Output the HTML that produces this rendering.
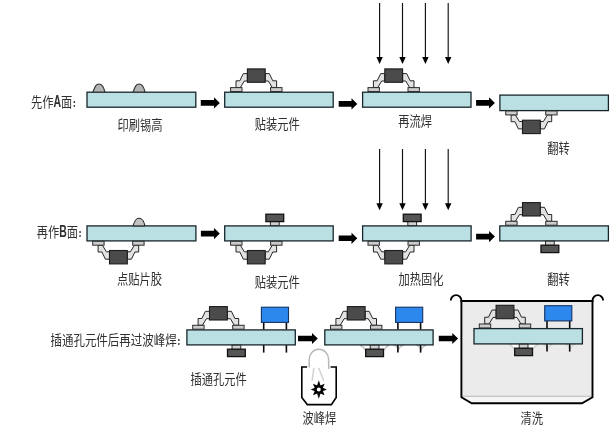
<!DOCTYPE html>
<html lang="zh-CN">
<head>
<meta charset="utf-8">
<title>SMT 双面混装工艺流程</title>
<style>
html,body{margin:0;padding:0;background:#fff;}
body{width:614px;height:429px;overflow:hidden;}
svg{display:block;will-change:transform;font-family:"Liberation Sans","Noto Sans CJK SC",sans-serif;}
.c{font-family:"Noto Sans CJK SC","Liberation Sans",sans-serif;font-size:9.5px;font-weight:900;}
</style>
</head>
<body>
<svg width="614" height="429" viewBox="0 0 614 429">
<rect width="614" height="429" fill="#fff"/>
<text transform="translate(31.0,107.3) scale(0.805,1)" font-size="14" fill="#303030">先作<tspan font-size="16" font-weight="bold" textLength="9.4" lengthAdjust="spacingAndGlyphs">A</tspan>面<tspan class="c" dx="0.8" dy="-0.2">:</tspan></text>
<rect x="87.0" y="92.2" width="108.8" height="15.0" fill="#bae0e4" stroke="#17262a" stroke-width="1.3"/>
<path d="M92.9,92.2 C95.1,86.5 95.9,84.0 98.9,84.0 C101.9,84.0 103.7,86.0 104.9,92.2 Z" fill="#b4b4b4" stroke="#333" stroke-width="1.2"/>
<path d="M133.0,92.2 C135.2,86.5 136.0,84.0 139.0,84.0 C142.0,84.0 143.8,86.0 145.0,92.2 Z" fill="#b4b4b4" stroke="#333" stroke-width="1.2"/>
<polygon points="200.8,100.1 214.0,100.1 214.0,97.3 219.8,102.9 214.0,108.5 214.0,105.7 200.8,105.7" fill="#000"/>
<rect x="224.7" y="92.2" width="108.5" height="15.0" fill="#bae0e4" stroke="#17262a" stroke-width="1.3"/>
<polygon points="247.4,73.6 243.3,73.6 239.8,80.8 236.0,80.8 236.0,87.6 240.3,87.6 244.3,81.0 247.4,81.0" fill="#e2e2e2" stroke="#262626" stroke-width="1"/>
<rect x="230.6" y="87.6" width="11.4" height="3.9" fill="#cccccc" stroke="#2e2e2e" stroke-width="1"/>
<polygon points="265.2,73.6 269.3,73.6 272.8,80.8 276.6,80.8 276.6,87.6 272.3,87.6 268.3,81.0 265.2,81.0" fill="#e2e2e2" stroke="#262626" stroke-width="1"/>
<rect x="270.6" y="87.6" width="11.4" height="3.9" fill="#cccccc" stroke="#2e2e2e" stroke-width="1"/>
<rect x="247.4" y="68.9" width="17.8" height="13.4" fill="#4b4b4b" stroke="#1c1c1c" stroke-width="1.1"/>
<polygon points="338.7,101.1 351.5,101.1 351.5,98.3 357.3,103.9 351.5,109.5 351.5,106.7 338.7,106.7" fill="#000"/>
<rect x="362.6" y="92.2" width="108.4" height="15.0" fill="#bae0e4" stroke="#17262a" stroke-width="1.3"/>
<polygon points="384.8,73.6 380.7,73.6 377.2,80.8 373.4,80.8 373.4,87.6 377.7,87.6 381.7,81.0 384.8,81.0" fill="#e2e2e2" stroke="#262626" stroke-width="1"/>
<rect x="368.0" y="87.6" width="11.4" height="3.9" fill="#cccccc" stroke="#2e2e2e" stroke-width="1"/>
<polygon points="402.6,73.6 406.7,73.6 410.2,80.8 414.0,80.8 414.0,87.6 409.7,87.6 405.7,81.0 402.6,81.0" fill="#e2e2e2" stroke="#262626" stroke-width="1"/>
<rect x="408.0" y="87.6" width="11.4" height="3.9" fill="#cccccc" stroke="#2e2e2e" stroke-width="1"/>
<rect x="384.8" y="68.9" width="17.8" height="13.4" fill="#4b4b4b" stroke="#1c1c1c" stroke-width="1.1"/>
<line x1="379.6" y1="3.0" x2="379.6" y2="58.5" stroke="#111" stroke-width="1.15"/>
<polygon points="376.4,56.9 382.8,56.9 379.6,63.9" fill="#000"/>
<line x1="402.5" y1="3.0" x2="402.5" y2="58.5" stroke="#111" stroke-width="1.15"/>
<polygon points="399.3,56.9 405.7,56.9 402.5,63.9" fill="#000"/>
<line x1="425.4" y1="3.0" x2="425.4" y2="58.5" stroke="#111" stroke-width="1.15"/>
<polygon points="422.2,56.9 428.6,56.9 425.4,63.9" fill="#000"/>
<line x1="448.2" y1="3.0" x2="448.2" y2="58.5" stroke="#111" stroke-width="1.15"/>
<polygon points="445.0,56.9 451.4,56.9 448.2,63.9" fill="#000"/>
<polygon points="476.1,100.1 489.1,100.1 489.1,97.3 494.9,102.9 489.1,108.5 489.1,105.7 476.1,105.7" fill="#000"/>
<rect x="499.9" y="95.1" width="108.5" height="15.5" fill="#bae0e4" stroke="#17262a" stroke-width="1.3"/>
<polygon points="522.5,128.9 518.4,128.9 514.9,121.7 511.1,121.7 511.1,114.9 515.4,114.9 519.4,121.5 522.5,121.5" fill="#e2e2e2" stroke="#262626" stroke-width="1"/>
<rect x="505.7" y="111.0" width="11.4" height="3.9" fill="#cccccc" stroke="#2e2e2e" stroke-width="1"/>
<polygon points="540.3,128.9 544.4,128.9 547.9,121.7 551.7,121.7 551.7,114.9 547.4,114.9 543.4,121.5 540.3,121.5" fill="#e2e2e2" stroke="#262626" stroke-width="1"/>
<rect x="545.7" y="111.0" width="11.4" height="3.9" fill="#cccccc" stroke="#2e2e2e" stroke-width="1"/>
<rect x="522.5" y="120.2" width="17.8" height="13.4" fill="#4b4b4b" stroke="#1c1c1c" stroke-width="1.1"/>
<text transform="translate(117.6,130.0) scale(0.805,1)" font-size="14" fill="#303030">印刷锡高</text>
<text transform="translate(254.7,129.4) scale(0.805,1)" font-size="14" fill="#303030">贴装元件</text>
<text transform="translate(398.3,126.3) scale(0.805,1)" font-size="14" fill="#303030">再流焊</text>
<text transform="translate(547.3,153.0) scale(0.805,1)" font-size="14" fill="#303030">翻转</text>
<text transform="translate(36.7,237.3) scale(0.805,1)" font-size="14" fill="#303030">再作<tspan font-size="16" font-weight="bold" textLength="9.4" lengthAdjust="spacingAndGlyphs">B</tspan>面<tspan class="c" dx="0.8" dy="-0.2">:</tspan></text>
<rect x="87.0" y="225.9" width="108.9" height="15.0" fill="#bae0e4" stroke="#17262a" stroke-width="1.3"/>
<path d="M132.9,225.9 C135.1,220.6 135.9,218.3 138.9,218.3 C141.9,218.3 143.7,220.2 144.9,225.9 Z" fill="#c2c2c2" stroke="#1c1c1c" stroke-width="1"/>
<polygon points="109.5,259.2 105.4,259.2 101.9,252.0 98.1,252.0 98.1,245.2 102.4,245.2 106.4,251.8 109.5,251.8" fill="#e2e2e2" stroke="#262626" stroke-width="1"/>
<rect x="92.7" y="241.3" width="11.4" height="3.9" fill="#cccccc" stroke="#2e2e2e" stroke-width="1"/>
<polygon points="127.3,259.2 131.4,259.2 134.9,252.0 138.7,252.0 138.7,245.2 134.4,245.2 130.4,251.8 127.3,251.8" fill="#e2e2e2" stroke="#262626" stroke-width="1"/>
<rect x="132.7" y="241.3" width="11.4" height="3.9" fill="#cccccc" stroke="#2e2e2e" stroke-width="1"/>
<rect x="109.5" y="250.5" width="17.8" height="13.4" fill="#4b4b4b" stroke="#1c1c1c" stroke-width="1.1"/>
<polygon points="200.9,230.8 214.0,230.8 214.0,228.0 219.8,233.6 214.0,239.2 214.0,236.4 200.9,236.4" fill="#000"/>
<rect x="224.7" y="225.9" width="108.5" height="15.0" fill="#bae0e4" stroke="#17262a" stroke-width="1.3"/>
<rect x="270.4" y="221.4" width="8.8" height="4.2" fill="#d0d0d0" stroke="#2a2a2a" stroke-width="1"/>
<rect x="265.9" y="214.2" width="17.8" height="7.4" fill="#555" stroke="#111" stroke-width="1.3"/>
<polygon points="247.4,259.2 243.3,259.2 239.8,252.0 236.0,252.0 236.0,245.2 240.3,245.2 244.3,251.8 247.4,251.8" fill="#e2e2e2" stroke="#262626" stroke-width="1"/>
<rect x="230.6" y="241.3" width="11.4" height="3.9" fill="#cccccc" stroke="#2e2e2e" stroke-width="1"/>
<polygon points="265.2,259.2 269.3,259.2 272.8,252.0 276.6,252.0 276.6,245.2 272.3,245.2 268.3,251.8 265.2,251.8" fill="#e2e2e2" stroke="#262626" stroke-width="1"/>
<rect x="270.6" y="241.3" width="11.4" height="3.9" fill="#cccccc" stroke="#2e2e2e" stroke-width="1"/>
<rect x="247.4" y="250.5" width="17.8" height="13.4" fill="#4b4b4b" stroke="#1c1c1c" stroke-width="1.1"/>
<polygon points="338.7,235.5 351.5,235.5 351.5,232.7 357.3,238.3 351.5,243.9 351.5,241.1 338.7,241.1" fill="#000"/>
<rect x="362.6" y="225.9" width="108.5" height="15.0" fill="#bae0e4" stroke="#17262a" stroke-width="1.3"/>
<rect x="407.8" y="221.4" width="8.8" height="4.2" fill="#d0d0d0" stroke="#2a2a2a" stroke-width="1"/>
<rect x="403.3" y="214.2" width="17.8" height="7.4" fill="#555" stroke="#111" stroke-width="1.3"/>
<polygon points="384.8,259.2 380.7,259.2 377.2,252.0 373.4,252.0 373.4,245.2 377.7,245.2 381.7,251.8 384.8,251.8" fill="#e2e2e2" stroke="#262626" stroke-width="1"/>
<rect x="368.0" y="241.3" width="11.4" height="3.9" fill="#cccccc" stroke="#2e2e2e" stroke-width="1"/>
<polygon points="402.6,259.2 406.7,259.2 410.2,252.0 414.0,252.0 414.0,245.2 409.7,245.2 405.7,251.8 402.6,251.8" fill="#e2e2e2" stroke="#262626" stroke-width="1"/>
<rect x="408.0" y="241.3" width="11.4" height="3.9" fill="#cccccc" stroke="#2e2e2e" stroke-width="1"/>
<rect x="384.8" y="250.5" width="17.8" height="13.4" fill="#4b4b4b" stroke="#1c1c1c" stroke-width="1.1"/>
<line x1="379.6" y1="149.0" x2="379.6" y2="204.8" stroke="#111" stroke-width="1.15"/>
<polygon points="376.4,203.2 382.8,203.2 379.6,210.2" fill="#000"/>
<line x1="402.5" y1="149.0" x2="402.5" y2="204.8" stroke="#111" stroke-width="1.15"/>
<polygon points="399.3,203.2 405.7,203.2 402.5,210.2" fill="#000"/>
<line x1="425.4" y1="149.0" x2="425.4" y2="204.8" stroke="#111" stroke-width="1.15"/>
<polygon points="422.2,203.2 428.6,203.2 425.4,210.2" fill="#000"/>
<line x1="448.2" y1="149.0" x2="448.2" y2="204.8" stroke="#111" stroke-width="1.15"/>
<polygon points="445.0,203.2 451.4,203.2 448.2,210.2" fill="#000"/>
<polygon points="476.1,233.8 489.1,233.8 489.1,231.0 494.9,236.6 489.1,242.2 489.1,239.4 476.1,239.4" fill="#000"/>
<rect x="499.8" y="225.9" width="108.6" height="15.0" fill="#bae0e4" stroke="#17262a" stroke-width="1.3"/>
<polygon points="522.5,207.3 518.4,207.3 514.9,214.5 511.1,214.5 511.1,221.3 515.4,221.3 519.4,214.7 522.5,214.7" fill="#e2e2e2" stroke="#262626" stroke-width="1"/>
<rect x="505.7" y="221.3" width="11.4" height="3.9" fill="#cccccc" stroke="#2e2e2e" stroke-width="1"/>
<polygon points="540.3,207.3 544.4,207.3 547.9,214.5 551.7,214.5 551.7,221.3 547.4,221.3 543.4,214.7 540.3,214.7" fill="#e2e2e2" stroke="#262626" stroke-width="1"/>
<rect x="545.7" y="221.3" width="11.4" height="3.9" fill="#cccccc" stroke="#2e2e2e" stroke-width="1"/>
<rect x="522.5" y="202.6" width="17.8" height="13.4" fill="#4b4b4b" stroke="#1c1c1c" stroke-width="1.1"/>
<rect x="545.5" y="241.2" width="8.8" height="4.2" fill="#d0d0d0" stroke="#2a2a2a" stroke-width="1"/>
<rect x="541.0" y="245.2" width="17.8" height="7.4" fill="#555" stroke="#111" stroke-width="1.3"/>
<text transform="translate(117.0,283.7) scale(0.805,1)" font-size="14" fill="#303030">点贴片胶</text>
<text transform="translate(254.7,286.8) scale(0.805,1)" font-size="14" fill="#303030">贴装元件</text>
<text transform="translate(398.4,283.6) scale(0.805,1)" font-size="14" fill="#303030">加热固化</text>
<text transform="translate(547.2,283.7) scale(0.805,1)" font-size="14" fill="#303030">翻转</text>
<text transform="translate(50.4,345.2) scale(0.822,1)" font-size="14" fill="#303030">插通孔元件后再过波峰焊<tspan class="c" dx="0.8" dy="-0.2">:</tspan></text>
<line x1="263.7" y1="321.5" x2="263.7" y2="329.5" stroke="#0a0a0a" stroke-width="1.6"/>
<line x1="286.4" y1="321.5" x2="286.4" y2="329.5" stroke="#0a0a0a" stroke-width="1.6"/>
<rect x="261.4" y="307.2" width="27.1" height="15.2" fill="#2d88ee" stroke="#143364" stroke-width="1.1"/>
<line x1="263.7" y1="344.9" x2="263.7" y2="352.6" stroke="#0a0a0a" stroke-width="1.6"/>
<line x1="286.4" y1="344.9" x2="286.4" y2="352.6" stroke="#0a0a0a" stroke-width="1.6"/>
<rect x="186.9" y="329.9" width="108.4" height="15.0" fill="#bae0e4" stroke="#17262a" stroke-width="1.3"/>
<polygon points="209.5,311.3 205.4,311.3 201.9,318.5 198.1,318.5 198.1,325.3 202.4,325.3 206.4,318.7 209.5,318.7" fill="#e2e2e2" stroke="#262626" stroke-width="1"/>
<rect x="192.7" y="325.3" width="11.4" height="3.9" fill="#cccccc" stroke="#2e2e2e" stroke-width="1"/>
<polygon points="227.3,311.3 231.4,311.3 234.9,318.5 238.7,318.5 238.7,325.3 234.4,325.3 230.4,318.7 227.3,318.7" fill="#e2e2e2" stroke="#262626" stroke-width="1"/>
<rect x="232.7" y="325.3" width="11.4" height="3.9" fill="#cccccc" stroke="#2e2e2e" stroke-width="1"/>
<rect x="209.5" y="306.6" width="17.8" height="13.4" fill="#4b4b4b" stroke="#1c1c1c" stroke-width="1.1"/>
<rect x="232.0" y="345.2" width="8.8" height="4.2" fill="#d0d0d0" stroke="#2a2a2a" stroke-width="1"/>
<rect x="227.5" y="349.2" width="17.8" height="7.4" fill="#555" stroke="#111" stroke-width="1.3"/>
<polygon points="298.0,335.7 312.0,335.7 312.0,332.9 317.8,338.5 312.0,344.1 312.0,341.3 298.0,341.3" fill="#000"/>
<path d="M309.3,367.5 L309.2,359.5 A9.7,10.2 0 0 1 328.6,359.5 L328.8,369" fill="none" stroke="#b8b8b8" stroke-width="1.5"/>
<line x1="313.9" y1="367.8" x2="312.1" y2="380.6" stroke="#d2d2d2" stroke-width="1.5"/>
<line x1="318.6" y1="367.8" x2="323.8" y2="380.8" stroke="#d2d2d2" stroke-width="1.5"/>
<path d="M307.1,367 L301.8,367 L301.8,397.5 L307.3,404.6 L331.4,404.6 L336.2,397.5 L336.2,367 L330.6,367" fill="none" stroke="#000" stroke-width="1.6"/>
<polygon points="318.8,380.3 317.1,385.6 320.5,385.6" fill="#000"/>
<polygon points="324.6,383.7 320.4,385.5 322.8,387.9" fill="#000"/>
<polygon points="326.8,389.5 322.7,387.8 322.7,391.2" fill="#000"/>
<polygon points="324.6,395.3 322.8,391.1 320.4,393.5" fill="#000"/>
<polygon points="318.8,398.7 320.5,393.4 317.1,393.4" fill="#000"/>
<polygon points="313.0,395.3 317.2,393.5 314.8,391.1" fill="#000"/>
<polygon points="310.8,389.5 314.9,391.2 314.9,387.8" fill="#000"/>
<polygon points="313.0,383.7 314.8,387.9 317.2,385.5" fill="#000"/>
<circle cx="318.8" cy="389.5" r="3.3" fill="#fff" stroke="#000" stroke-width="2.6"/>
<line x1="397.9" y1="321.5" x2="397.9" y2="329.5" stroke="#0a0a0a" stroke-width="1.6"/>
<line x1="420.6" y1="321.5" x2="420.6" y2="329.5" stroke="#0a0a0a" stroke-width="1.6"/>
<rect x="395.6" y="307.2" width="27.1" height="15.2" fill="#2d88ee" stroke="#143364" stroke-width="1.1"/>
<path d="M359.6,344.9 Q363.2,346.5 365.4,350.5 L383.8,350.5 Q386.0,346.5 389.6,344.9 Z" fill="#fff" stroke="#bcbcbc" stroke-width="1.2"/>
<path d="M393.3,344.9 Q396.7,345.9 397.9,348.9 L397.9,350.7 Q399.5,346.5 403.9,344.9 Z" fill="#fff" stroke="#bcbcbc" stroke-width="1.2"/>
<line x1="397.9" y1="344.9" x2="397.9" y2="352.6" stroke="#0a0a0a" stroke-width="1.6"/>
<path d="M416.0,344.9 Q419.4,345.9 420.6,348.9 L420.6,350.7 Q422.2,346.5 426.6,344.9 Z" fill="#fff" stroke="#bcbcbc" stroke-width="1.2"/>
<line x1="420.6" y1="344.9" x2="420.6" y2="352.6" stroke="#0a0a0a" stroke-width="1.6"/>
<rect x="324.8" y="329.9" width="108.3" height="15.0" fill="#bae0e4" stroke="#17262a" stroke-width="1.3"/>
<polygon points="347.3,311.3 343.2,311.3 339.7,318.5 335.9,318.5 335.9,325.3 340.2,325.3 344.2,318.7 347.3,318.7" fill="#e2e2e2" stroke="#262626" stroke-width="1"/>
<rect x="330.5" y="325.3" width="11.4" height="3.9" fill="#cccccc" stroke="#2e2e2e" stroke-width="1"/>
<polygon points="365.1,311.3 369.2,311.3 372.7,318.5 376.5,318.5 376.5,325.3 372.2,325.3 368.2,318.7 365.1,318.7" fill="#e2e2e2" stroke="#262626" stroke-width="1"/>
<rect x="370.5" y="325.3" width="11.4" height="3.9" fill="#cccccc" stroke="#2e2e2e" stroke-width="1"/>
<rect x="347.3" y="306.6" width="17.8" height="13.4" fill="#4b4b4b" stroke="#1c1c1c" stroke-width="1.1"/>
<rect x="370.2" y="345.2" width="8.8" height="4.2" fill="#d0d0d0" stroke="#2a2a2a" stroke-width="1"/>
<rect x="365.7" y="349.2" width="17.8" height="7.4" fill="#555" stroke="#111" stroke-width="1.3"/>
<polygon points="438.8,335.7 452.3,335.7 452.3,332.9 458.1,338.5 452.3,344.1 452.3,341.3 438.8,341.3" fill="#000"/>
<path d="M461.4,301 L592.5,301 L592.5,397.2 L582,403.3 L471.7,403.3 L461.4,397.2 Z" fill="#f6f6f6"/>
<rect x="461.4" y="301" width="130.9" height="95.2" fill="#ebebeb"/>
<line x1="461.4" y1="396.3" x2="592.5" y2="396.3" stroke="#b4b4b4" stroke-width="0.9"/>
<path d="M461.4,301 L592.5,301 L592.5,397.2 L582,403.3 L471.7,403.3 L461.4,397.2 Z" fill="none" stroke="#000" stroke-width="1.9" stroke-linejoin="miter"/>
<path d="M461.4,302 L461.4,300.5 A5.3,5.3 0 0 0 450.8,300.5" fill="none" stroke="#000" stroke-width="1.8"/>
<path d="M592.5,302 L592.5,300.5 A5.3,5.3 0 0 1 603.1,300.5" fill="none" stroke="#000" stroke-width="1.8"/>
<line x1="547.0" y1="320.0" x2="547.0" y2="328.0" stroke="#0a0a0a" stroke-width="1.6"/>
<line x1="569.7" y1="320.0" x2="569.7" y2="328.0" stroke="#0a0a0a" stroke-width="1.6"/>
<rect x="544.7" y="305.7" width="27.1" height="15.2" fill="#2d88ee" stroke="#143364" stroke-width="1.1"/>
<path d="M508.6,343.9 Q512.2,345.5 514.4,349.5 L532.8,349.5 Q535.0,345.5 538.6,343.9 Z" fill="#fff" stroke="#cacaca" stroke-width="1.2"/>
<path d="M542.4,343.9 Q545.8,344.9 547.0,347.9 L547.0,349.7 Q548.6,345.5 553.0,343.9 Z" fill="#fff" stroke="#cacaca" stroke-width="1.2"/>
<line x1="547.0" y1="343.9" x2="547.0" y2="351.6" stroke="#0a0a0a" stroke-width="1.6"/>
<path d="M565.1,343.9 Q568.5,344.9 569.7,347.9 L569.7,349.7 Q571.3,345.5 575.7,343.9 Z" fill="#fff" stroke="#cacaca" stroke-width="1.2"/>
<line x1="569.7" y1="343.9" x2="569.7" y2="351.6" stroke="#0a0a0a" stroke-width="1.6"/>
<rect x="474.0" y="328.6" width="108.4" height="15.3" fill="#bae0e4" stroke="#17262a" stroke-width="1.3"/>
<polygon points="496.1,310.0 492.0,310.0 488.5,317.2 484.7,317.2 484.7,324.0 489.0,324.0 493.0,317.4 496.1,317.4" fill="#e2e2e2" stroke="#262626" stroke-width="1"/>
<rect x="479.3" y="324.0" width="11.4" height="3.9" fill="#cccccc" stroke="#2e2e2e" stroke-width="1"/>
<polygon points="513.9,310.0 518.0,310.0 521.5,317.2 525.3,317.2 525.3,324.0 521.0,324.0 517.0,317.4 513.9,317.4" fill="#e2e2e2" stroke="#262626" stroke-width="1"/>
<rect x="519.3" y="324.0" width="11.4" height="3.9" fill="#cccccc" stroke="#2e2e2e" stroke-width="1"/>
<rect x="496.1" y="305.3" width="17.8" height="13.4" fill="#4b4b4b" stroke="#1c1c1c" stroke-width="1.1"/>
<rect x="519.2" y="344.2" width="8.8" height="4.2" fill="#d0d0d0" stroke="#2a2a2a" stroke-width="1"/>
<rect x="514.7" y="348.2" width="17.8" height="7.4" fill="#555" stroke="#111" stroke-width="1.3"/>
<text transform="translate(190.6,383.8) scale(0.805,1)" font-size="14" fill="#303030">插通孔元件</text>
<text transform="translate(302.6,422.6) scale(0.805,1)" font-size="14" fill="#303030">波峰焊</text>
<text transform="translate(520.6,422.8) scale(0.805,1)" font-size="14" fill="#303030">清洗</text>
</svg>
</body>
</html>
